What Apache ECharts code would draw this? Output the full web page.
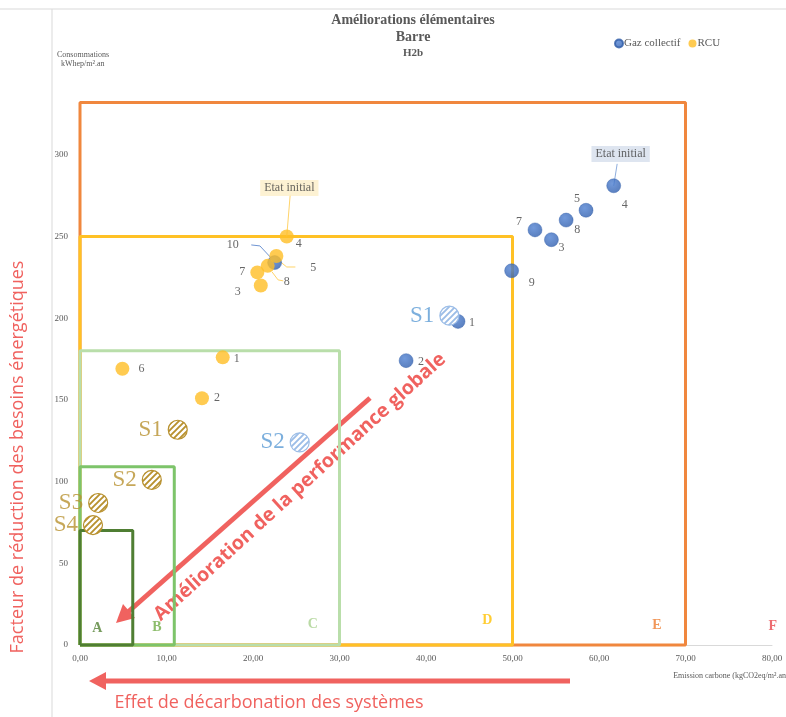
<!DOCTYPE html>
<html><head><meta charset="utf-8">
<script src="https://cdn.jsdelivr.net/npm/echarts@6/dist/echarts.min.js"></script>
<style>html,body{margin:0;padding:0;background:#fff}#c{width:786px;height:717px}</style>
</head><body><div id="c"></div>
<script>
// ---- data ----
const xTicks = [0,10,20,30,40,50,60,70,80];
const yTicks = [0,50,100,150,200,250,300];
const gazLabels = ['1','2','3','4','5','7','8','9','10'];
const gazX = [43.7,37.7,54.5,61.7,58.5,52.6,56.2,49.9,22.5];
const gazY = [198,174,248,281,266,254,260,229,234];
const rcuLabels = ['1','2','3','4','5','6','7','8'];
const rcuX = [16.5,14.1,20.9,23.9,22.7,4.9,20.5,21.7];
const rcuY = [176,151,220,250,238,169,228,232];
const gazSLabels = ['S1','S2'];
const gazSX = [42.7,25.4];
const gazSY = [201.5,124];
const rcuSLabels = ['S1','S2','S3','S4'];
const rcuSX = [11.3,8.3,2.1,1.5];
const rcuSY = [131.7,101,86.9,73.4];
const zoneNames = ['E','D','C','B','A'];
const zoneXMax = [70,50,30,10.9,6.1];
const zoneYMax = [332,250,180,109,70];
const letterNames = ['A','B','C','D','E','F'];
const letterX = [2.0,8.9,26.9,47.1,66.7,80.1];
const letterY = [10.4,11.0,12.9,15.3,12.2,11.6];
const initialLabel = 'Etat initial';

// ---- styling ----
const SERIF = '"Liberation Serif","Times New Roman",serif';
const SANS = '"Open Sans","Noto Sans",sans-serif';
const RED = '#F0625F';
const zoneColors = {E:'#F0873E',D:'#FFC125',C:'#B9DEAA',B:'#7DC46A',A:'#4F7E33'};
const letterColors = {A:'#548235',B:'#70AD47',C:'#A9D18E',D:'#FFC000',E:'#ED7D31',F:'#E8474C'};
const gazOff = {'1':[14,1],'2':[15,1],'3':[10,8],'4':[11,19],'5':[-9,-11],'7':[-16,-8],'8':[11,10],'9':[20,12],'10':[-42,-18]};
const rcuOff = {'1':[14,1],'2':[15,0],'3':[-23,6],'4':[12,7],'5':[37,12],'6':[19,0],'7':[-15,-1],'8':[19,16]};

function hatch(color){
  const s=6, c=document.createElement('canvas'); c.width=c.height=s;
  const g=c.getContext('2d'); g.fillStyle='#fff'; g.fillRect(0,0,s,s);
  g.strokeStyle=color; g.lineWidth=1.9; g.beginPath();
  g.moveTo(0,s); g.lineTo(s,0); g.moveTo(-2,2); g.lineTo(2,-2); g.moveTo(s-2,s+2); g.lineTo(s+2,s-2);
  g.stroke(); return {image:c, repeat:'repeat'};
}
const blueGrad = {type:'radial',x:0.4,y:0.35,r:0.75,colorStops:[{offset:0,color:'#4E80D2'},{offset:1,color:'#2D5BAA'}]};
const yellow = '#FFBE26';

const series = [];
zoneNames.forEach((z,i)=>{
  series.push({type:'line', name:'zone'+z, clip:false, silent:true, showSymbol:false, symbol:'none', z:1,
    data:[[0,0],[zoneXMax[i],0],[zoneXMax[i],zoneYMax[i]],[0,zoneYMax[i]],[0,0]],
    lineStyle:{color:zoneColors[z], width:3}});
});
letterNames.forEach((l,i)=>{
  series.push({type:'scatter', clip:false, silent:true, symbolSize:0, z:2,
    data:[[letterX[i],letterY[i]]],
    label:{show:true, position:'inside', formatter:l, color:letterColors[l], fontFamily:SERIF, fontWeight:'bold', fontSize:14}});
});
// leader lines
const leaders = [
  {c:'#6F95D3', d:[[19.8,244.8],[20.8,244.2],[22.1,236.8]]},
  {c:'#FFD46A', d:[[22.9,235.6],[23.9,231.3],[24.9,231.3]]},
  {c:'#FFD46A', d:[[22.2,228.3],[22.9,223.4],[23.5,222.8]]},
  {c:'#FFD46A', d:[[24.3,275.5],[23.9,250]]},
  {c:'#8FAEDD', d:[[62.1,294.4],[61.7,281]]}
];
leaders.forEach(l=>series.push({type:'line', clip:false, silent:true, symbol:'none', z:3, data:l.d, lineStyle:{color:l.c,width:1}}));

function pts(xs,ys,labs,off){
  return xs.map((x,i)=>({value:[x,ys[i]], name:labs[i], label:{offset:off?off[labs[i]]:undefined}}));
}
series.push({type:'scatter', name:'Gaz collectif', z:5, symbolSize:14,
  itemStyle:{color:blueGrad, borderColor:'#2F5DA8', borderWidth:0.5},
  data:pts(gazX,gazY,gazLabels,gazOff),
  label:{show:true, position:'inside', formatter:'{b}', color:'#404040', fontFamily:SERIF, fontSize:12}});
series.push({type:'scatter', name:'RCU', z:6, symbolSize:14,
  itemStyle:{color:yellow},
  data:pts(rcuX,rcuY,rcuLabels,rcuOff),
  label:{show:true, position:'inside', formatter:'{b}', color:'#404040', fontFamily:SERIF, fontSize:12}});

function hatchedSeries(xs,ys,labs,col,labCol){
  series.push({type:'scatter', z:7, symbolSize:20, silent:true,
    itemStyle:{color:'rgba(0,0,0,0)'},
    data:pts(xs,ys,labs),
    label:{show:true, position:'left', distance:5, formatter:'{b}', color:labCol, fontFamily:SERIF, fontSize:23}});
  const pat = hatch(col);
  series.push({type:'custom', z:8, silent:true, clip:false,
    data:xs.map((x,i)=>[x,ys[i]]),
    renderItem:(params,api)=>{
      const p = api.coord([api.value(0),api.value(1)]);
      return {type:'circle', shape:{cx:p[0],cy:p[1],r:9.5}, style:{fill:pat, stroke:col, lineWidth:1.2}};
    }});
}
hatchedSeries(gazSX,gazSY,gazSLabels,'#9CBDE7','#5B9BD5');
hatchedSeries(rcuSX,rcuSY,rcuSLabels,'#B8912F','#B8912F');

// "Etat initial" callouts
series.push({type:'scatter', clip:false, silent:true, symbolSize:0, z:9,
  data:[{value:[24.2,279.7], bg:'#FCEFC8'},{value:[62.5,300.5], bg:'#D6DFEC'}].map(d=>({value:d.value,
    label:{backgroundColor:d.bg}})),
  label:{show:true, position:'inside', formatter:initialLabel, color:'#404040', fontFamily:SERIF, fontSize:12, padding:[2,4,2,4]}});

const option = {
  animation:false,
  backgroundColor:'#fff',
  grid:{left:80, right:14, top:73, bottom:72, containLabel:false},
  legend:{data:['Gaz collectif','RCU'], left:609, top:33, icon:'circle', itemWidth:8, itemHeight:8, itemGap:8,
    textStyle:{fontFamily:SERIF, fontSize:11, color:'#595959', padding:[0,0,0,-4]}},
  xAxis:{type:'value', min:0, max:80, interval:10,
    axisLine:{show:true, lineStyle:{color:'#D9D9D9'}}, axisTick:{show:false}, splitLine:{show:false},
    axisLabel:{margin:9, fontFamily:SERIF, fontSize:9, color:'#595959', showMaxLabel:true,
      formatter:v=>xTicks.includes(v)?v.toFixed(2).replace('.',','):''}},
  yAxis:{type:'value', min:0, max:350, interval:50,
    axisLine:{show:false}, axisTick:{show:false}, splitLine:{show:false},
    axisLabel:{margin:12, fontFamily:SERIF, fontSize:9, color:'#595959',
      formatter:v=>yTicks.includes(v)?String(v):''}},
  series:series,
  graphic:[
    {type:'line', shape:{x1:52,y1:9,x2:52,y2:717}, style:{stroke:'#D9D9D9',lineWidth:1}, silent:true},
    {type:'line', shape:{x1:0,y1:9,x2:786,y2:9}, style:{stroke:'#D9D9D9',lineWidth:1}, silent:true},
    {type:'text', x:413, y:20, style:{text:'Améliorations élémentaires', textAlign:'center', textVerticalAlign:'middle', font:'bold 14px '+SERIF, fill:'#595959'}},
    {type:'text', x:413, y:37, style:{text:'Barre', textAlign:'center', textVerticalAlign:'middle', font:'bold 14px '+SERIF, fill:'#595959'}},
    {type:'text', x:413, y:53, style:{text:'H2b', textAlign:'center', textVerticalAlign:'middle', font:'bold 11px '+SERIF, fill:'#595959'}},
    {type:'text', x:57, y:55, style:{text:'Consommations', textAlign:'left', textVerticalAlign:'middle', font:'8px '+SERIF, fill:'#595959'}},
    {type:'text', x:61, y:64, style:{text:'kWhep/m².an', textAlign:'left', textVerticalAlign:'middle', font:'8px '+SERIF, fill:'#595959'}},
    {type:'text', x:786, y:676, style:{text:'Emission carbone (kgCO2eq/m².an', textAlign:'right', textVerticalAlign:'middle', font:'8px '+SERIF, fill:'#595959'}},
    // bottom arrow
    {type:'line', shape:{x1:570,y1:681,x2:102,y2:681}, style:{stroke:RED,lineWidth:5}, silent:true},
    {type:'polygon', shape:{points:[[89,681],[106,672],[106,690]]}, style:{fill:RED}, silent:true},
    {type:'text', x:269, y:703, style:{text:'Effet de décarbonation des systèmes', textAlign:'center', textVerticalAlign:'middle', font:'18px '+SANS, fill:RED}},
    // diagonal arrow
    {type:'line', shape:{x1:370,y1:398,x2:128,y2:612}, style:{stroke:RED,lineWidth:5}, silent:true},
    {type:'polygon', shape:{points:[[116,623],[135,618],[123,604]]}, style:{fill:RED}, silent:true},
    {type:'text', x:300, y:487, rotation:0.74, style:{text:'Amélioration de la performance globale', textAlign:'center', textVerticalAlign:'middle', font:'bold 19.5px '+SANS, fill:RED}},
    // left axis text
    {type:'text', x:18, y:457, rotation:Math.PI/2, style:{text:'Facteur de réduction des besoins énergétiques', textAlign:'center', textVerticalAlign:'middle', font:'18px '+SANS, fill:RED}}
  ]
};
const chart = echarts.init(document.getElementById('c'), null, {renderer:'canvas'});
chart.setOption(option);
</script></body></html>
